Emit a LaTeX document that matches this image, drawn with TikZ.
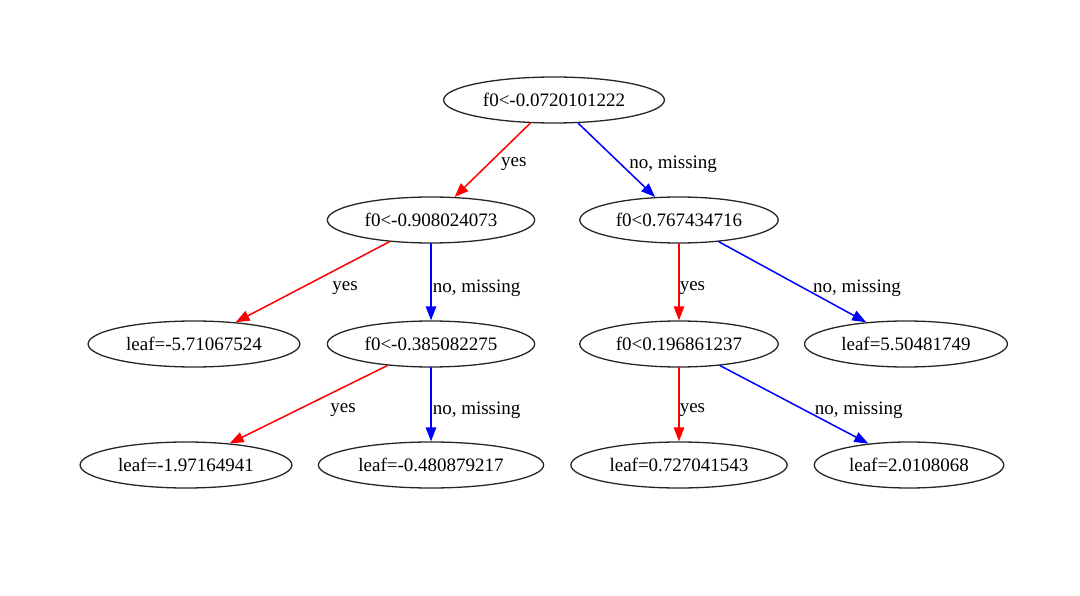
\documentclass[tikz,border=0pt]{standalone}
\usepackage{fontspec}
\setmainfont{Liberation Serif}
\usetikzlibrary{shapes.geometric,arrows.meta}

\begin{document}
\begin{tikzpicture}[line cap=round,line join=round,>={Triangle[length=14pt,width=10.5pt]},x=1pt,y=-1pt,
  tnode/.style={draw=black!85,line width=1.3pt,ellipse,minimum height=46pt,inner xsep=7pt,inner ysep=2pt,font=\fontsize{19}{22}\selectfont},
  yesedge/.style={->,draw=red,line width=1.5pt},
  noedge/.style={->,draw=blue,line width=1.5pt},
  elabel/.style={inner sep=0pt,anchor=west,font=\fontsize{19}{22}\selectfont}]
\useasboundingbox (0,0) rectangle (1080,596);
% split nodes
\node[tnode] (root) at (554,100) {f0<-0.0720101222};
\node[tnode] (n1) at (431,220) {f0<-0.908024073};
\node[tnode] (n2) at (679,220) {f0<0.767434716};
\node[tnode] (n3) at (431,344) {f0<-0.385082275};
\node[tnode] (n4) at (679,344) {f0<0.196861237};
% leaves
\node[tnode] (l1) at (194,344) {leaf=-5.71067524};
\node[tnode] (l2) at (906,344) {leaf=5.50481749};
\node[tnode] (l3) at (186,465) {leaf=-1.97164941};
\node[tnode] (l4) at (431,465) {leaf=-0.480879217};
\node[tnode] (l5) at (679,465) {leaf=0.727041543};
\node[tnode] (l6) at (909,465) {leaf=2.0108068};
% edges
\draw[yesedge] (root) -- (n1) node[elabel,midway,xshift=8pt,yshift=-4pt] {yes};
\draw[noedge] (root) -- (n2) node[elabel,midway,xshift=12pt,yshift=-4pt] {no, missing};
\draw[yesedge] (n1) -- (l1) node[elabel,midway,xshift=19pt,yshift=-6pt] {yes};
\draw[noedge] (n1) -- (n3) node[elabel,midway,xshift=1pt,yshift=-6pt] {no, missing};
\draw[yesedge] (n2) -- (n4) node[elabel,midway,xshift=0pt,yshift=-6pt] {yes};
\draw[noedge] (n2) -- (l2) node[elabel,midway,xshift=20pt,yshift=-6pt] {no, missing};
\draw[yesedge] (n3) -- (l3) node[elabel,midway,xshift=21pt,yshift=-6pt] {yes};
\draw[noedge] (n3) -- (l4) node[elabel,midway,xshift=1pt,yshift=-6pt] {no, missing};
\draw[yesedge] (n4) -- (l5) node[elabel,midway,xshift=0pt,yshift=-6pt] {yes};
\draw[noedge] (n4) -- (l6) node[elabel,midway,xshift=20pt,yshift=-6pt] {no, missing};
\end{tikzpicture}
\end{document}
